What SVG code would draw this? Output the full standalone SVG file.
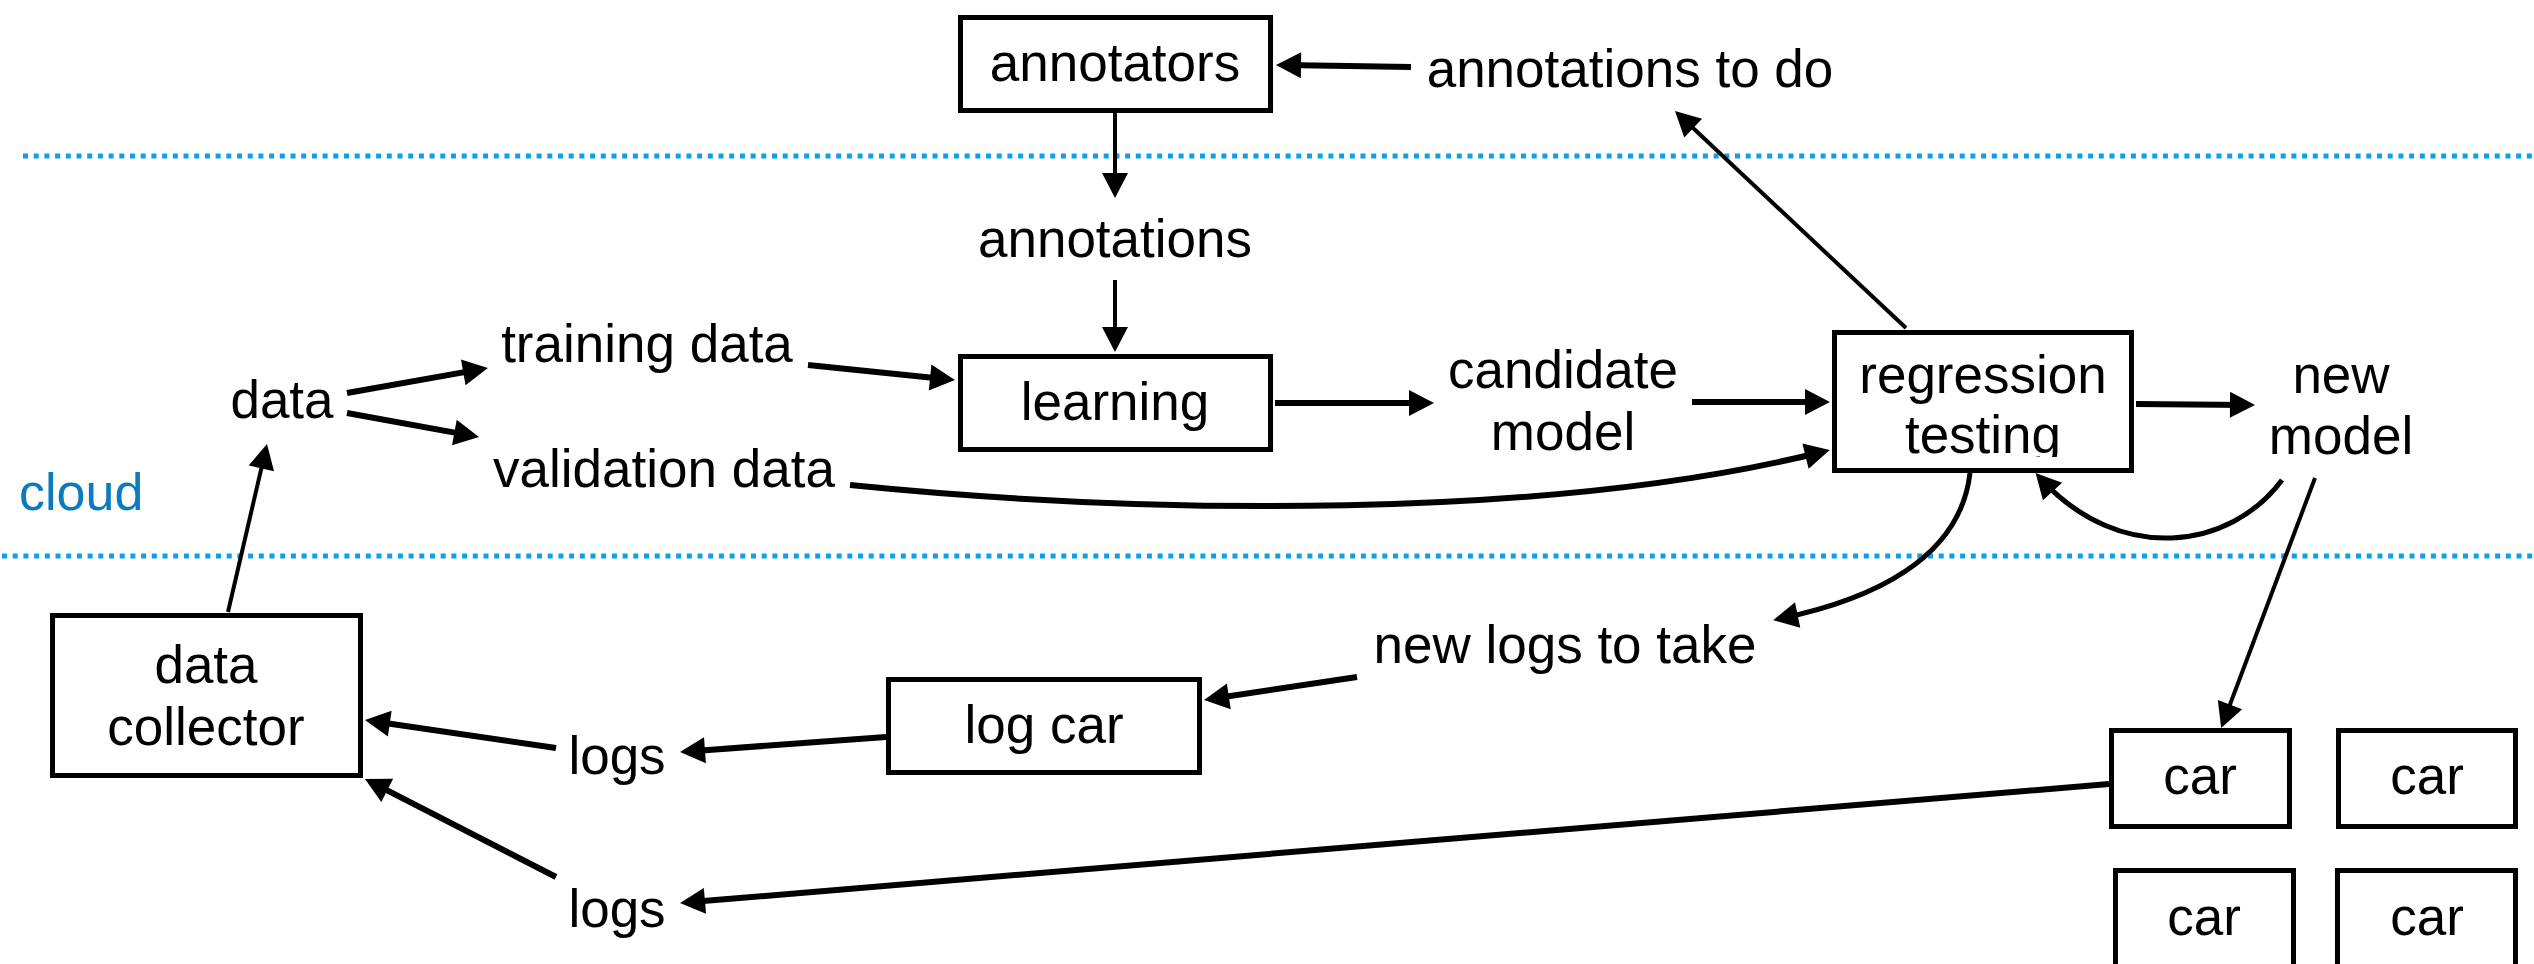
<svg xmlns="http://www.w3.org/2000/svg" width="2534" height="964" viewBox="0 0 2534 964">
<style>
.box{fill:#fff;stroke:#000;stroke-width:5}
.t{font-family:"Liberation Sans",Arial,sans-serif;font-size:53px;fill:#000;text-anchor:middle}
.c{fill:none;stroke:#000;stroke-linecap:butt}
.thick{stroke-width:6}
.mid{stroke-width:5}
.thin{stroke-width:4}
.sep{stroke:#0c9ff0;stroke-width:5;stroke-dasharray:5 5.7;fill:none}
</style>
<defs>
<marker id="ah" markerUnits="userSpaceOnUse" markerWidth="26" markerHeight="26" refX="17" refY="13" orient="auto" overflow="visible">
<path d="M0,0 L25,13 L0,26 z" fill="#000"/>
</marker>
<clipPath id="clipTesting"><rect x="1830" y="400" width="310" height="57"/></clipPath>
</defs>
<rect width="2534" height="964" fill="#fff"/>
<g id="separators">
<line class="sep" x1="23" y1="156" x2="2534" y2="156"/>
<line class="sep" x1="2" y1="556" x2="2534" y2="556"/>
<text x="19" y="510" font-family="'Liberation Sans',Arial,sans-serif" font-size="52" fill="#0b7bbd">cloud</text>
</g>
<g id="connectors">
<line class="c thin" x1="1115" y1="113" x2="1115" y2="190" marker-end="url(#ah)"/>
<line class="c thin" x1="1115" y1="280" x2="1115" y2="344" marker-end="url(#ah)"/>
<line class="c thick" x1="347" y1="393" x2="480" y2="369.4" marker-end="url(#ah)"/>
<line class="c thick" x1="347" y1="413" x2="471.1" y2="435.6" marker-end="url(#ah)"/>
<line class="c thick" x1="808" y1="365" x2="947" y2="379.2" marker-end="url(#ah)"/>
<line class="c thick" x1="1275" y1="403" x2="1426" y2="403" marker-end="url(#ah)"/>
<line class="c thick" x1="1692" y1="402" x2="1822" y2="402" marker-end="url(#ah)"/>
<line class="c thick" x1="2136" y1="404" x2="2247" y2="405" marker-end="url(#ah)"/>
<line class="c thin" x1="1906" y1="328" x2="1680.8" y2="116.5" marker-end="url(#ah)"/>
<line class="c thick" x1="1411" y1="67" x2="1284" y2="65.1" marker-end="url(#ah)"/>
<path class="c thick" d="M850 485 C1150 515 1550 520 1822 452" marker-end="url(#ah)"/>
<path class="c mid" d="M1970 473 C1960 560 1870 600 1781 618.5" marker-end="url(#ah)"/>
<path class="c mid" d="M2282 480 C2230 550 2120 565 2041 479" marker-end="url(#ah)"/>
<line class="c thin" x1="2315" y1="478" x2="2224" y2="720.5" marker-end="url(#ah)"/>
<line class="c thick" x1="1357" y1="677" x2="1212" y2="698.8" marker-end="url(#ah)"/>
<line class="c thick" x1="886" y1="737" x2="688" y2="751.4" marker-end="url(#ah)"/>
<line class="c thick" x1="556" y1="748" x2="372.9" y2="721.2" marker-end="url(#ah)"/>
<line class="c thick" x1="556" y1="877" x2="372.1" y2="782.6" marker-end="url(#ah)"/>
<line class="c thick" x1="2109" y1="784" x2="688" y2="902.3" marker-end="url(#ah)"/>
<line class="c thin" x1="228" y1="612" x2="265.2" y2="451.8" marker-end="url(#ah)"/>
</g>
<g id="annotators">
<rect class="box" x="960.5" y="17.5" width="310" height="93"/>
<text class="t" x="1115" y="81">annotators</text>
</g>
<g id="annotations-to-do"><text class="t" x="1630" y="87">annotations to do</text></g>
<g id="annotations"><text class="t" x="1115" y="257">annotations</text></g>
<g id="training-data"><text class="t" x="647" y="362">training data</text></g>
<g id="data"><text class="t" x="282" y="418">data</text></g>
<g id="validation-data"><text class="t" x="664" y="487">validation data</text></g>
<g id="learning">
<rect class="box" x="960.5" y="356.5" width="310" height="93"/>
<text class="t" x="1115" y="420">learning</text>
</g>
<g id="candidate-model">
<text class="t" x="1563" y="388">candidate</text>
<text class="t" x="1563" y="450">model</text>
</g>
<g id="regression-testing">
<rect class="box" x="1834.5" y="332.5" width="297" height="138"/>
<text class="t" x="1983" y="393">regression</text>
<text class="t" x="1983" y="453" clip-path="url(#clipTesting)">testing</text>
</g>
<g id="new-model">
<text class="t" x="2341" y="393">new</text>
<text class="t" x="2341" y="454">model</text>
</g>
<g id="new-logs-to-take"><text class="t" x="1565" y="663">new logs to take</text></g>
<g id="log-car">
<rect class="box" x="888.5" y="679.5" width="311" height="93"/>
<text class="t" x="1044" y="743">log car</text>
</g>
<g id="logs-1"><text class="t" x="617" y="774">logs</text></g>
<g id="logs-2"><text class="t" x="617" y="927">logs</text></g>
<g id="data-collector">
<rect class="box" x="52.5" y="615.5" width="308" height="160"/>
<text class="t" x="206" y="683">data</text>
<text class="t" x="206" y="745">collector</text>
</g>
<g id="car-1">
<rect class="box" x="2111.5" y="730.5" width="178" height="96"/>
<text class="t" x="2200" y="794">car</text>
</g>
<g id="car-2">
<rect class="box" x="2338.5" y="730.5" width="177" height="96"/>
<text class="t" x="2427" y="794">car</text>
</g>
<g id="car-3">
<rect class="box" x="2115.5" y="870.5" width="178" height="110"/>
<text class="t" x="2204" y="935">car</text>
</g>
<g id="car-4">
<rect class="box" x="2337.5" y="870.5" width="178" height="110"/>
<text class="t" x="2427" y="935">car</text>
</g>
</svg>
